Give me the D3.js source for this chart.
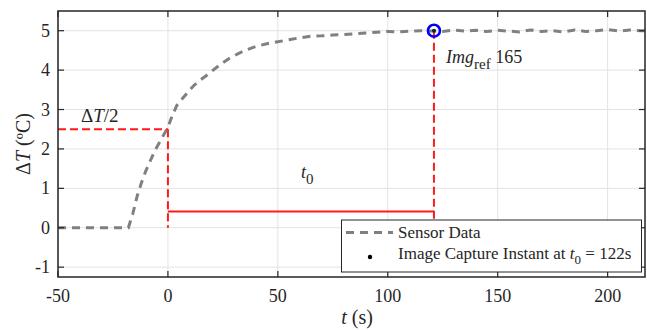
<!DOCTYPE html>
<html>
<head>
<meta charset="utf-8">
<script src="https://cdn.jsdelivr.net/npm/d3@7"></script>
<style>
  body { margin: 0; background: #fff; }
</style>
</head>
<body>
<svg id="chart" width="647" height="330"></svg>
<script>
// sensor trace (t in s, dT in degC)
const times = [-50, -18, -16, -14, -12, -10, -8, -6, -4, -2, 0, 2, 4, 6, 8, 10, 12, 15, 18, 21, 24, 28, 32, 36, 40, 45, 50,
  55, 60, 65, 70, 75, 80, 85, 90, 95, 100, 105, 110, 115, 120, 125, 130, 135, 140, 145, 150, 155, 160, 165,
  170, 175, 180, 185, 190, 195, 200, 205, 210, 215, 217];
const deltaT = [0, 0, 0.35, 0.8, 1.15, 1.45, 1.7, 1.95, 2.15, 2.35, 2.55, 2.85, 3.1, 3.24, 3.37, 3.5, 3.62, 3.76, 3.88, 4.02, 4.15, 4.3,
  4.42, 4.52, 4.6, 4.67, 4.72, 4.77, 4.82, 4.86, 4.87, 4.89, 4.9, 4.92, 4.94, 4.96, 4.98, 4.97, 4.99, 5.0, 4.99, 4.98, 5.02,
  4.99, 5.01, 4.98, 5.01, 4.99, 4.97, 5.02, 4.98, 5.0, 4.97, 5.02, 4.98, 5.0, 5.03, 4.99, 5.02, 5.0, 5.0];
const xTicks = [-50, 0, 50, 100, 150, 200];
const yTicks = [-1, 0, 1, 2, 3, 4, 5];
const halfT = 2.5;
const tStart = 0;
const tCapture = 121;
const captureValue = 5;
const t0Level = 0.41;

const svg = d3.select("#chart");
const pLeft = 58, pTop = 11, pRight = 645, pBottom = 277;
const ink = "#262626";
const serif = "Liberation Serif";

const x = d3.scaleLinear().domain([-50, 217]).range([pLeft, pRight]);
const y = d3.scaleLinear().domain([-1.25, 5.5]).range([pBottom, pTop]);

function label(sel, px, py, size) {
  return sel.append("text").attr("x", px).attr("y", py)
    .attr("font-family", serif).attr("font-size", size).attr("fill", ink);
}

// grid
const grid = svg.append("g");
grid.selectAll("line.gx").data(xTicks).join("line")
  .attr("x1", d => x(d)).attr("x2", d => x(d)).attr("y1", pTop).attr("y2", pBottom)
  .attr("stroke", "#e3e3e3").attr("stroke-width", 1);
grid.selectAll("line.gy").data(yTicks).join("line")
  .attr("x1", pLeft).attr("x2", pRight).attr("y1", d => y(d)).attr("y2", d => y(d))
  .attr("stroke", "#e3e3e3").attr("stroke-width", 1);

// red guide lines
const red = "#ff1a1a";
svg.append("line")
  .attr("x1", x.range()[0]).attr("x2", x(tStart)).attr("y1", y(halfT)).attr("y2", y(halfT))
  .attr("stroke", red).attr("stroke-width", 2).attr("stroke-dasharray", "8,4");
svg.append("line")
  .attr("x1", x(tStart)).attr("x2", x(tStart)).attr("y1", y(halfT)).attr("y2", y(0))
  .attr("stroke", red).attr("stroke-width", 2).attr("stroke-dasharray", "8,4");
svg.append("line")
  .attr("x1", x(tCapture)).attr("x2", x(tCapture)).attr("y1", y(captureValue)).attr("y2", y(0))
  .attr("stroke", red).attr("stroke-width", 2).attr("stroke-dasharray", "8,4");
svg.append("line")
  .attr("x1", x(tStart)).attr("x2", x(tCapture)).attr("y1", y(t0Level)).attr("y2", y(t0Level))
  .attr("stroke", red).attr("stroke-width", 2);

// sensor curve
const pts = times.map((t, i) => [t, deltaT[i]]);
const line = d3.line().x(d => x(d[0])).y(d => y(d[1]));
svg.append("path").datum(pts)
  .attr("d", line)
  .attr("fill", "none").attr("stroke", "#808080").attr("stroke-width", 3)
  .attr("stroke-dasharray", "8,6");

// capture marker
svg.append("circle").attr("cx", x(tCapture)).attr("cy", y(captureValue)).attr("r", 6)
  .attr("fill", "none").attr("stroke", "#0000ff").attr("stroke-width", 2.6);
svg.append("circle").attr("cx", x(tCapture)).attr("cy", y(captureValue)).attr("r", 2)
  .attr("fill", "#0a2a2a");

// axes box with inward ticks
const axes = svg.append("g");
axes.append("rect").attr("x", pLeft).attr("y", pTop).attr("width", pRight - pLeft).attr("height", pBottom - pTop)
  .attr("fill", "none").attr("stroke", ink).attr("stroke-width", 1.5);
const tl = 6;
axes.selectAll("line.xt").data(xTicks).join("line")
  .attr("x1", d => x(d)).attr("x2", d => x(d)).attr("y1", pBottom).attr("y2", pBottom - tl)
  .attr("stroke", ink).attr("stroke-width", 1.2);
axes.selectAll("line.xt2").data(xTicks).join("line")
  .attr("x1", d => x(d)).attr("x2", d => x(d)).attr("y1", pTop).attr("y2", pTop + tl)
  .attr("stroke", ink).attr("stroke-width", 1.2);
axes.selectAll("line.yt").data(yTicks).join("line")
  .attr("x1", pLeft).attr("x2", pLeft + tl).attr("y1", d => y(d)).attr("y2", d => y(d))
  .attr("stroke", ink).attr("stroke-width", 1.2);
axes.selectAll("line.yt2").data(yTicks).join("line")
  .attr("x1", pRight).attr("x2", pRight - tl).attr("y1", d => y(d)).attr("y2", d => y(d))
  .attr("stroke", ink).attr("stroke-width", 1.2);

axes.selectAll("text.xl").data(xTicks).join("text")
  .attr("x", d => x(d)).attr("y", 302).attr("text-anchor", "middle")
  .attr("font-family", serif).attr("font-size", 18).attr("fill", ink).text(d => d);
axes.selectAll("text.yl").data(yTicks).join("text")
  .attr("x", 50).attr("y", d => y(d) + 6).attr("text-anchor", "end")
  .attr("font-family", serif).attr("font-size", 18).attr("fill", ink).text(d => d);

// axis titles
const xt = label(svg, 357, 324, 20).attr("text-anchor", "middle");
xt.append("tspan").attr("font-style", "italic").text("t");
xt.append("tspan").text(" (s)");

const yt = label(svg, 0, 0, 20).attr("transform", "translate(30,144) rotate(-90)")
  .attr("text-anchor", "middle");
yt.append("tspan").text("Δ");
yt.append("tspan").attr("font-style", "italic").text("T");
yt.append("tspan").text(" (ºC)");

// annotations
const ht = label(svg, 81, 122, 19);
ht.append("tspan").text("Δ");
ht.append("tspan").attr("font-style", "italic").text("T");
ht.append("tspan").text("/2");

const t0 = label(svg, 301, 178, 18);
t0.append("tspan").attr("font-style", "italic").text("t");
t0.append("tspan").attr("dy", 6).attr("font-size", 15).text("0");

const img = label(svg, 446, 63, 18);
img.append("tspan").attr("font-style", "italic").text("Img");
img.append("tspan").attr("dy", 6).attr("font-size", 15).text("ref");
img.append("tspan").attr("dy", -6).text(" 165");

// legend
const lg = svg.append("g");
lg.append("rect").attr("x", 341.5).attr("y", 220).attr("width", 300).attr("height", 52)
  .attr("fill", "#fff").attr("stroke", ink).attr("stroke-width", 1);
lg.append("line").attr("x1", 346).attr("x2", 393).attr("y1", 232.5).attr("y2", 232.5)
  .attr("stroke", "#808080").attr("stroke-width", 3).attr("stroke-dasharray", "8,6");
lg.append("circle").attr("cx", 370).attr("cy", 257).attr("r", 2.2).attr("fill", "#000");
label(lg, 398, 238, 17).text("Sensor Data");
const l2 = label(lg, 398, 259, 17);
l2.append("tspan").text("Image Capture Instant at ");
l2.append("tspan").attr("font-style", "italic").text("t");
l2.append("tspan").attr("dy", 5).attr("font-size", 13).text("0");
l2.append("tspan").attr("dy", -5).text(" = 122s");
</script>
</body>
</html>
